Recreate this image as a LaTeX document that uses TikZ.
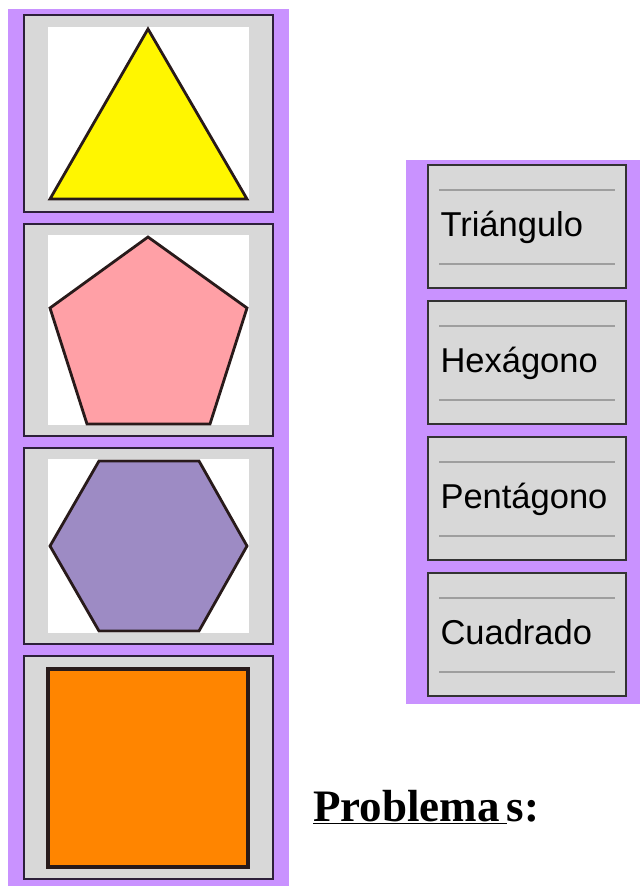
\documentclass[tikz,border=0pt]{standalone}
\usepackage{fontspec}
\setmainfont{Liberation Serif}
\newfontfamily\cardfont{Liberation Sans}
\usetikzlibrary{positioning}

\definecolor{lila}{RGB}{201,146,255}
\definecolor{cardgray}{RGB}{216,216,216}
\definecolor{rimdark}{RGB}{45,32,58}
\definecolor{rulegray}{RGB}{158,158,158}
\definecolor{shapeline}{RGB}{40,26,26}
\definecolor{triyellow}{RGB}{255,246,0}
\definecolor{pentpink}{RGB}{255,160,166}
\definecolor{hexlila}{RGB}{157,139,196}
\definecolor{sqorange}{RGB}{255,133,0}

\tikzset{
  piccard/.style={draw=rimdark,line width=1.4pt,fill=cardgray,minimum width=249pt,inner sep=0pt},
  namecard/.style={draw=black!80,line width=1.4pt,fill=cardgray,minimum width=198pt,minimum height=123pt,inner sep=0pt},
  rule/.style={rulegray,line width=2pt},
  figline/.style={draw=shapeline,line width=2.8pt,line join=miter}
}

\begin{document}
\begin{tikzpicture}[x=1pt,y=-1pt]
  \useasboundingbox (0,0) rectangle (640,886);

  % Purple strips
  \fill[lila] (8,9) rectangle (289,886);
  \fill[lila] (406,160) rectangle (640,704);

  % Picture cards
  \node[piccard,minimum height=197pt] (tri) at (148.5,113.5) {};
  \node[piccard,minimum height=212pt] (pent) at (148.5,330) {};
  \node[piccard,minimum height=196pt] (hex) at (148.5,546) {};
  \node[piccard,minimum height=223pt] (sq) at (148.5,767.5) {};

  % White backgrounds
  \fill[white] (48,27) rectangle (249,200);
  \fill[white] (48,235) rectangle (249,425);
  \fill[white] (48,459) rectangle (249,633);

  % Shapes
  \filldraw[figline,fill=triyellow] (148,29) -- (247,199) -- (50,199) -- cycle;
  \filldraw[figline,fill=pentpink] (148,237) -- (247,308) -- (210,424) -- (87,424) -- (50,308) -- cycle;
  \filldraw[figline,fill=hexlila] (99,461) -- (199,461) -- (247,546) -- (199,631) -- (99,631) -- (50,546) -- cycle;
  \filldraw[figline,line width=4pt,fill=sqorange] (48,669) rectangle (248,867);

  % Name cards
  \node[namecard] (ntri) at (527,226.5) {};
  \node[namecard,below=11.6pt of ntri] (nhex) {};
  \node[namecard,below=11.6pt of nhex] (npent) {};
  \node[namecard,below=11.6pt of npent] (nsq) {};

  \foreach \c/\t in {ntri/Triángulo,nhex/Hexágono,npent/Pentágono,nsq/Cuadrado}{
    \draw[rule] ([xshift=12pt,yshift=-26pt]\c.north west) -- ([xshift=-12pt,yshift=-26pt]\c.north east);
    \draw[rule] ([xshift=12pt,yshift=25pt]\c.south west) -- ([xshift=-12pt,yshift=25pt]\c.south east);
    \node[anchor=base west,inner sep=0pt,font=\cardfont\fontsize{34.5}{34.5}\selectfont]
      (\c-txt) at ([xshift=13pt,yshift=-10pt]\c.west) {\t};
  }

  % Heading
  \node[anchor=base west,inner sep=0pt,font=\bfseries\fontsize{45}{45}\selectfont]
    (head) at (313,821) {\underline{Problema\kern7pt}s:};
\end{tikzpicture}
\end{document}
